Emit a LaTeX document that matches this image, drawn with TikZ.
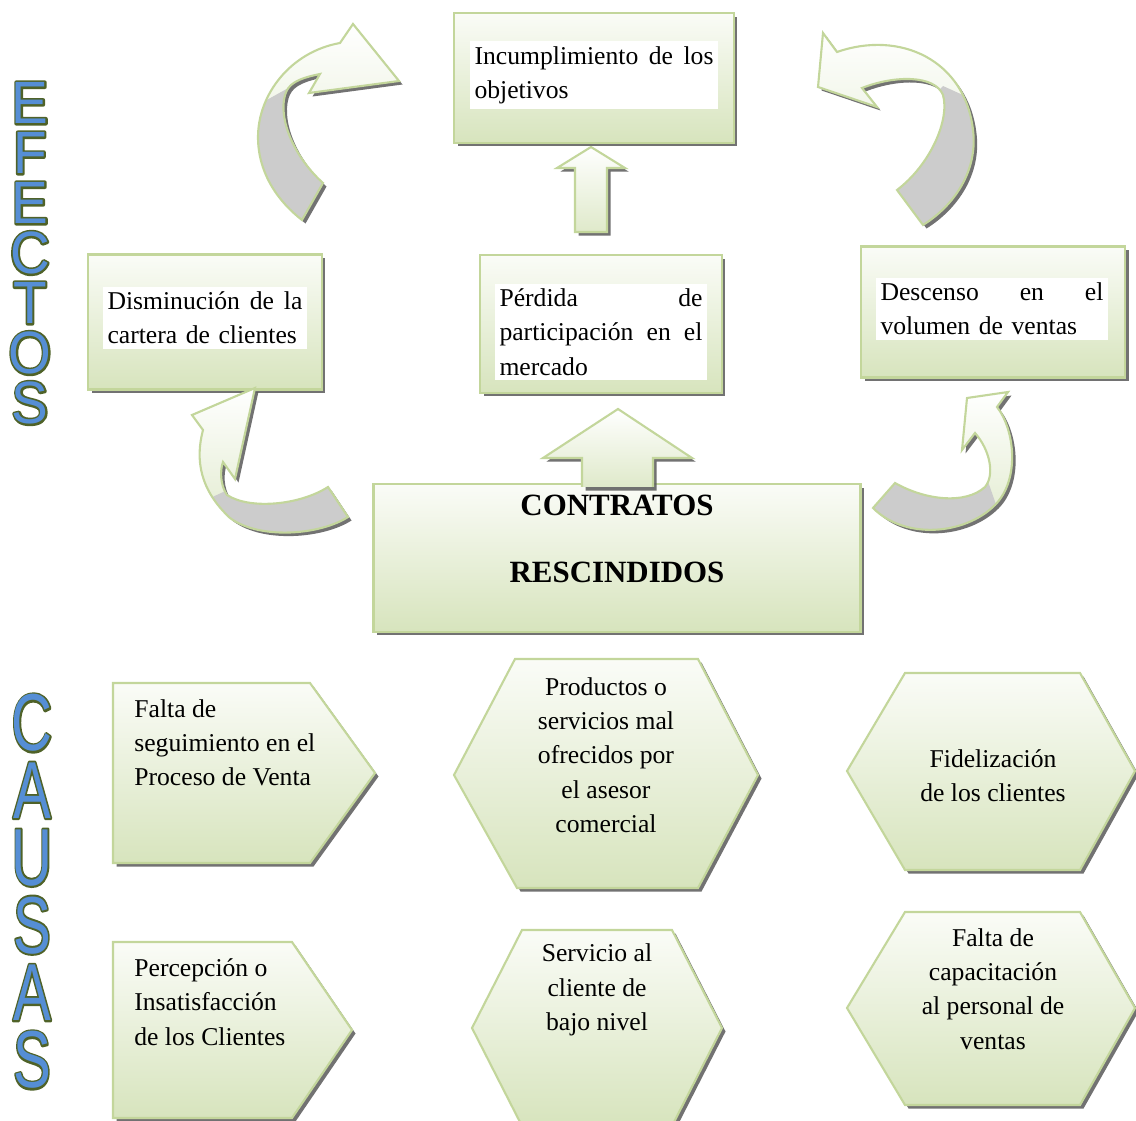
\documentclass[tikz,border=0pt]{standalone}
\usepackage{fontspec}
\setmainfont{Liberation Serif}
\newfontfamily\letrasfont{Liberation Sans}
\usetikzlibrary{shadows, positioning}

\definecolor{verdeBorde}{HTML}{C3D69B}
\definecolor{verdeFondo}{HTML}{D7E4BD}
\definecolor{grisCola}{HTML}{CCCCCC}
\definecolor{azulLetra}{HTML}{558ED5}
\definecolor{olivaLetra}{HTML}{4F6228}

% trazo oliva de una letra (solo contorno)
\newcommand{\letraTrazo}[1]{\special{pdf:literal direct 1 Tr 2.3 w 1 j 0.310 0.384 0.157 RG}#1\special{pdf:literal direct 0 Tr}}

% contornos de las flechas curvas (en pixeles)
\tikzset{
  arcoSupIzq/.style={insert path={(323,183) .. controls (295,158) and (278,120) .. (285,95)
      .. controls (288,85) and (295,79) .. (320,74) -- (309,93) -- (399,81) -- (353,24) -- (340,43)
      .. controls (290,52) and (258,95) .. (258,137) .. controls (258,175) and (280,203) .. (302,220) -- cycle}},
  arcoSupDer/.style={insert path={(837,52) .. controls (900,30) and (965,60) .. (973,130)
      .. controls (978,170) and (955,205) .. (923,225) -- (897,190) .. controls (930,165) and (950,120) .. (943,95)
      .. controls (935,75) and (895,75) .. (862,88) -- (877,107) -- (818,87) -- (823,33) -- cycle}},
  arcoInfIzq/.style={insert path={(348,517) -- (328,487) .. controls (300,505) and (250,510) .. (227,495)
      .. controls (220,485) and (220,470) .. (223,462) -- (235,479) -- (255,388) -- (192,415) -- (203,430)
      .. controls (195,460) and (200,490) .. (230,518) .. controls (260,540) and (320,535) .. (348,517) -- cycle}},
  arcoInfDer/.style={insert path={(873,508) -- (895,483) .. controls (925,500) and (965,505) .. (985,487)
      .. controls (995,475) and (990,450) .. (975,433) -- (962,450) -- (967,398) -- (1008,392) -- (997,407)
      .. controls (1015,430) and (1020,480) .. (995,505) .. controls (965,535) and (905,540) .. (873,508) -- cycle}}
}

\begin{document}
\begin{tikzpicture}[x=0.02cm, y=-0.02cm,
    sombra/.style={drop shadow={shadow xshift=2pt, shadow yshift=-2pt, fill=black!65, opacity=0.85}},
    caja/.style={draw=verdeBorde, line width=1.2pt, top color=verdeFondo!12, bottom color=verdeFondo, sombra},
    texto/.style={font=\fontsize{14.6}{19.5}\selectfont},
    blanco/.style={texto, fill=white, inner xsep=0.09cm, inner ysep=0.1cm, align=left},
    causa/.style={texto, align=center, inner sep=0pt},
    relleno/.style={top color=white, bottom color=verdeFondo!80, sombra},
    borde/.style={draw=verdeBorde, line width=1.2pt},
    letraEfecto/.style={text=azulLetra, inner sep=0pt, font=\letrasfont\fontsize{34}{34}\selectfont},
    letraCausa/.style={text=azulLetra, inner sep=0pt, font=\letrasfont\fontsize{46}{46}\selectfont}
]
\useasboundingbox (0,0) rectangle (1136,1121);

% Efectos
\node[caja, minimum width=5.6cm, minimum height=2.6cm] (objetivos) at (594,78) {};
\node[blanco, text width=4.78cm] (objetivosTxt) at (594,75) {Incumplimiento\hfill de\hfill los\\objetivos};

\node[caja, minimum width=4.68cm, minimum height=2.7cm] (disminucion) at (205,322) {};
\node[blanco, text width=3.9cm] (disminucionTxt) at (205,318) {Disminución\hfill de\hfill la\\cartera de clientes};

\node[caja, minimum width=4.84cm, minimum height=2.76cm] (perdida) at (601,324) {};
\node[blanco, text width=4.06cm] (perdidaTxt) at (601,332) {Pérdida\hfill de\\participación\hfill en\hfill el\\mercado};

\node[caja, minimum width=5.28cm, minimum height=2.62cm] (descenso) at (993,312) {};
\node[blanco, text width=4.46cm] (descensoTxt) at (992,309) {Descenso\hfill en\hfill el\\volumen de ventas};

% Problema central
\node[caja, minimum width=9.74cm, minimum height=2.96cm] (contratos) at (617,558) {};
\node[font=\fontsize{17.6}{38}\selectfont\bfseries, align=center] (contratosTxt) at (617,539) {CONTRATOS\\RESCINDIDOS};

% Flechas rectas
\fill[relleno] (575,232) -- (575,168) -- (557,168) -- (591,147) -- (625,168) -- (607,168) -- (607,232) -- cycle;
\draw[borde] (575,232) -- (575,168) -- (557,168) -- (591,147) -- (625,168) -- (607,168) -- (607,232) -- cycle;
\fill[relleno] (582,487) -- (582,458) -- (543,458) -- (618,409) -- (692,458) -- (653,458) -- (653,487) -- cycle;
\draw[borde] (582,487) -- (582,458) -- (543,458) -- (618,409) -- (692,458) -- (653,458) -- (653,487);

% Flechas curvas
\path[relleno, arcoSupIzq];
\begin{scope}
  \clip[arcoSupIzq];
  \fill[grisCola] (245,112) -- (292,86) -- (330,150) -- (330,230) -- (245,230) -- cycle;
\end{scope}
\draw[borde, arcoSupIzq];

\path[relleno, arcoSupDer];
\begin{scope}
  \clip[arcoSupDer];
  \fill[grisCola] (943,86) -- (985,105) -- (1000,250) -- (880,250) -- (880,150) -- cycle;
\end{scope}
\draw[borde, arcoSupDer];

\path[relleno, arcoInfIzq];
\begin{scope}
  \clip[arcoInfIzq];
  \fill[grisCola] (195,505) -- (232,488) -- (370,470) -- (370,560) -- (195,560) -- cycle;
\end{scope}
\draw[borde, arcoInfIzq];

\path[relleno, arcoInfDer];
\begin{scope}
  \clip[arcoInfDer];
  \fill[grisCola] (860,470) -- (984,470) -- (1000,516) -- (1000,560) -- (860,560) -- cycle;
\end{scope}
\draw[borde, arcoInfDer];

% Causas
\path[caja] (113,683) -- (310,683) -- (375,773) -- (310,863) -- (113,863) -- cycle;
\node[causa, anchor=west, align=left] (seguimiento) at (134,743) {Falta de\\seguimiento en el\\Proceso de Venta};

\path[caja] (515,659) -- (698,659) -- (758,775) -- (698,888) -- (517,888) -- (454,775) -- cycle;
\node[causa] (productos) at (606,755) {Productos o\\servicios mal\\ofrecidos por\\el asesor\\comercial};

\path[caja] (905,673) -- (1080,673) -- (1135,771) -- (1080,870) -- (905,870) -- (847,771) -- cycle;
\node[causa] (fidelizacion) at (993,776) {Fidelización\\de los clientes};

\path[caja] (113,942) -- (292,942) -- (352,1030) -- (292,1118) -- (113,1118) -- cycle;
\node[causa, anchor=west, align=left] (percepcion) at (134,1002) {Percepción o\\Insatisfacción\\de los Clientes};

\path[caja] (522,930) -- (672,930) -- (722,1028) -- (672,1126) -- (522,1126) -- (472,1028) -- cycle;
\node[causa] (servicio) at (597,990) {Servicio al\\cliente de\\bajo nivel};

\path[caja] (905,912) -- (1080,912) -- (1135,1008) -- (1080,1105) -- (905,1105) -- (847,1008) -- cycle;
\node[causa] (capacitacion) at (993,989) {Falta de\\capacitación\\al personal de\\ventas};

% Letras verticales: trazo oliva debajo, relleno azul encima
\foreach \letra [count=\i from 0] in {E,F,E,C,T,O,S} {
  \node[letraEfecto] at (30,{103+50*\i}) {\scalebox{0.92}[1]{\letraTrazo{\letra}}};
  \node[letraEfecto] (efectos\i) at (30,{103+50*\i}) {\scalebox{0.92}[1]{\letra}};
}
\foreach \letra [count=\i from 0] in {C,A,U,S,A,S} {
  \node[letraCausa] at (32,{723+67.4*\i}) {\scalebox{0.7}[1]{\letraTrazo{\letra}}};
  \node[letraCausa] (causas\i) at (32,{723+67.4*\i}) {\scalebox{0.7}[1]{\letra}};
}
\end{tikzpicture}
\end{document}
